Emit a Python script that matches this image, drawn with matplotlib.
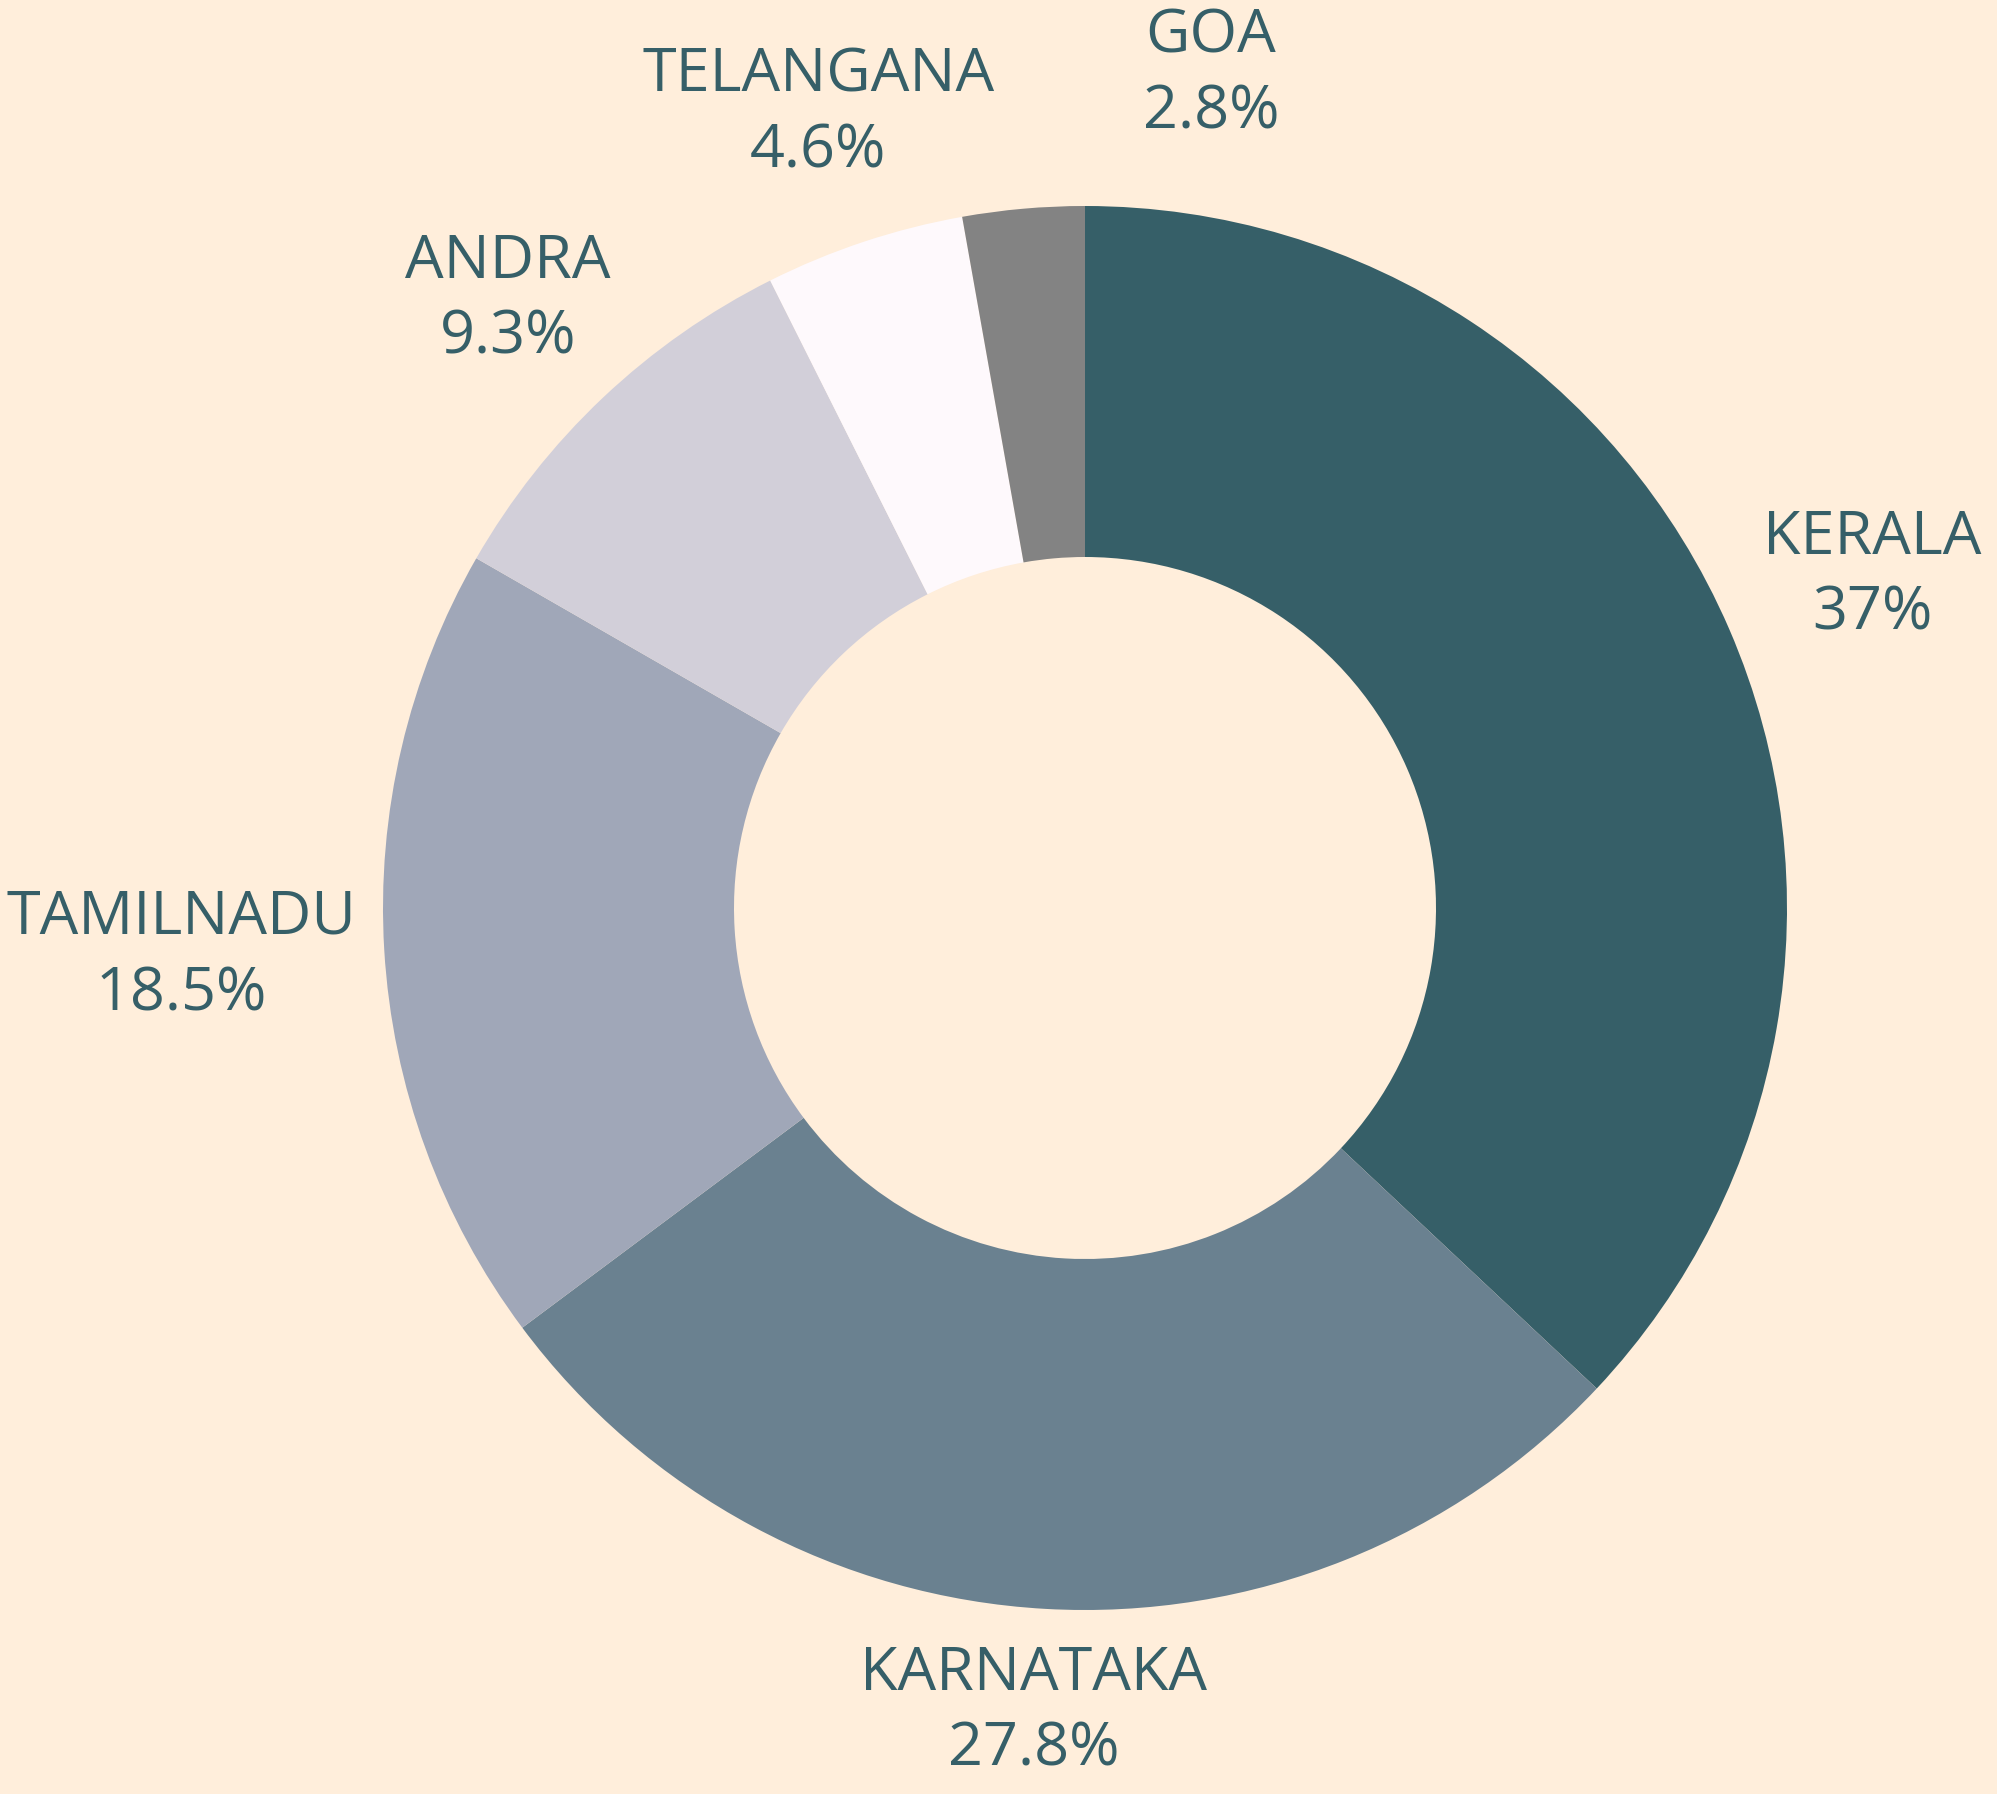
import numpy as np
import matplotlib
matplotlib.use("Agg")
import matplotlib.pyplot as plt

states = ['KERALA', 'KARNATAKA', 'TAMILNADU', 'ANDRA', 'TELANGANA', 'GOA']
shares = [37.0, 27.8, 18.5, 9.3, 4.6, 2.8]
share_labels = ['37%', '27.8%', '18.5%', '9.3%', '4.6%', '2.8%']
colors = ['#365f68', '#6a8190', '#a0a7b8', '#d2cfd9', '#fef9fc', '#838383']

BG = '#ffeedb'
TEXT = '#365f68'
W, H, DPI = 1997, 1794, 100
CX, CY, R = 1085, 1794 - 908, 702   # pie center / radius in pixels
LABEL_R = 1.05
UP_BIAS = 0.045
# horizontal nudge (in radii) for labels that plotly would scoot sideways
nudge = {'GOA': 0.28, 'TELANGANA': 0.03, 'KERALA': 0.015, 'TAMILNADU': 0.01}

plt.rcParams['font.family'] = ['Open Sans', 'DejaVu Sans']

fig = plt.figure(figsize=(W / DPI, H / DPI), dpi=DPI, facecolor=BG)
ax = fig.add_axes([(CX - R) / W, (CY - R) / H, 2 * R / W, 2 * R / H])
ax.set_facecolor(BG)

wedges, _ = ax.pie(shares, colors=colors, startangle=90, counterclock=False,
                   radius=1.0, wedgeprops=dict(width=0.5, linewidth=0))
ax.set_xlim(-1, 1)
ax.set_ylim(-1, 1)
ax.set_aspect('equal')
ax.axis('off')

fig.canvas.draw()
renderer = fig.canvas.get_renderer()
for w, name, lab in zip(wedges, states, share_labels):
    ang = np.deg2rad((w.theta1 + w.theta2) / 2)
    dx, dy = np.cos(ang), np.sin(ang)
    t = ax.text(0, 0, f"{name}\n{lab}", ha='center', va='center',
                fontsize=44, fontweight=500, color=TEXT, clip_on=False,
                linespacing=1.35)
    bb = t.get_window_extent(renderer)
    tw, th = bb.width / R, bb.height / R   # size in data units (radius = 1)
    x = LABEL_R * dx + dx * tw / 2 + nudge.get(name, 0)
    y = LABEL_R * dy + dy * th / 2 + UP_BIAS * max(dy, 0)
    t.set_position((x, y))

fig.savefig('out.png', dpi=DPI, facecolor=BG)
